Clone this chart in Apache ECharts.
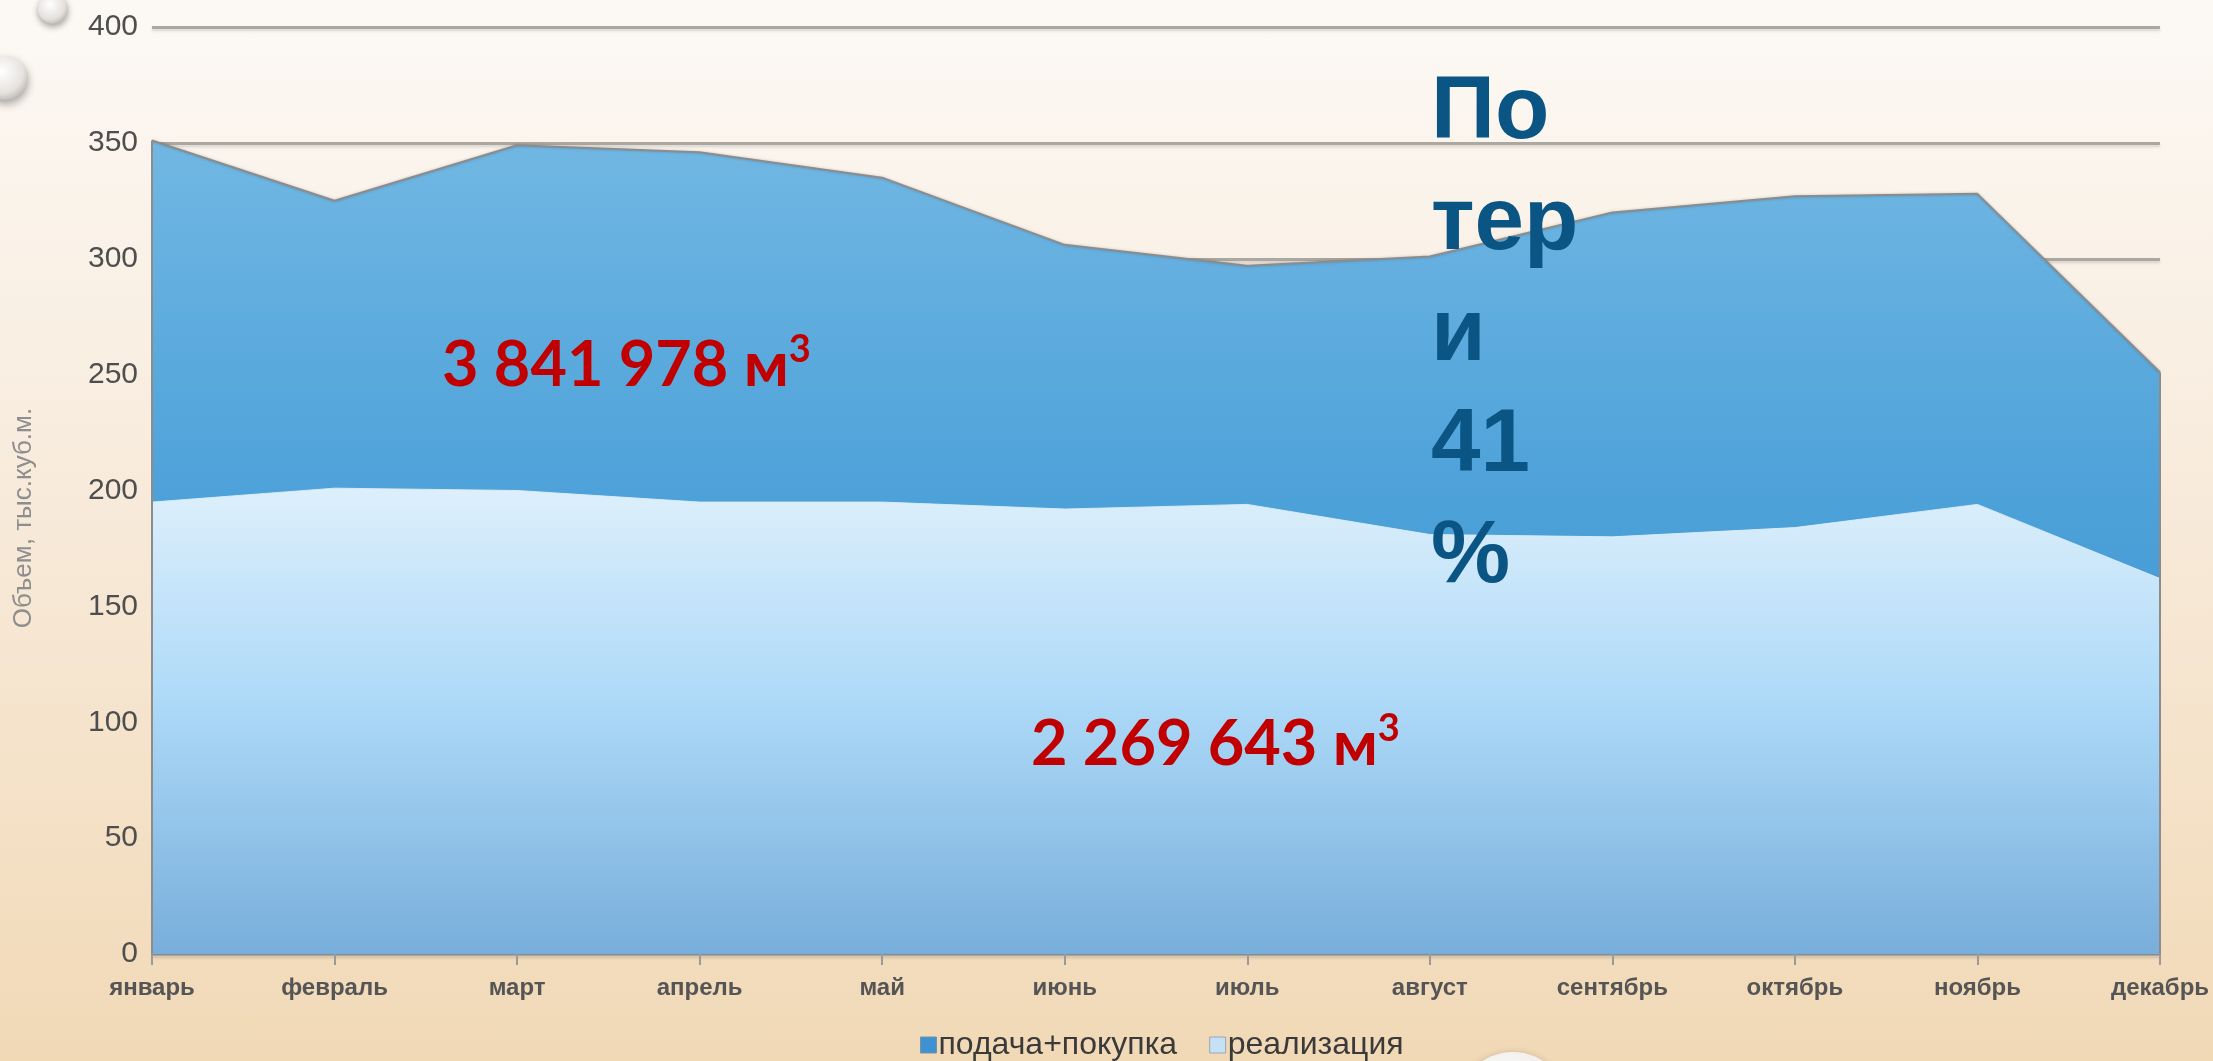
<!DOCTYPE html>
<html>
<head>
<meta charset="utf-8">
<script src="https://cdn.jsdelivr.net/npm/echarts@6/dist/echarts.min.js"></script>
<style>
html,body{margin:0;padding:0;}
#c{width:2213px;height:1061px;background:linear-gradient(180deg,#FCF9F5 0%,#F8EBDC 45%,#F1D9B6 100%);}
</style>
</head>
<body>
<div id="c"></div>
<script>
var months = ['январь','февраль','март','апрель','май','июнь','июль','август','сентябрь','октябрь','ноябрь','декабрь'];
var supply = [351, 325, 349, 346, 335, 306, 297, 301, 320, 327, 328, 251];
var sales = [195, 201, 200, 195, 195, 192, 194, 181, 180, 184, 194, 162];
var seriesNames = ['подача+покупка', 'реализация'];
var yAxisTitle = 'Объем, тыс.куб.м.';
var noteSupply = '3 841 978 м';
var noteSales = '2 269 643 м';
var noteLoss = 'По\nтер\nи\n41\n%';

var chart = echarts.init(document.getElementById('c'), null, {renderer: 'canvas'});
var last = months.length - 1;
var edgeStyle = {color: '#8C8C8C', width: 2, type: 'solid'};
var redRich = {
  a: {fontFamily: 'Lato', fontWeight: 'bold', fontSize: 63, lineHeight: 70, fill: '#C00000', color: '#C00000'},
  s: {fontFamily: 'Lato', fontWeight: 'bold', fontSize: 38, lineHeight: 40, verticalAlign: 'top', fill: '#C00000', color: '#C00000'}
};

chart.setOption({
  backgroundColor: 'transparent',
  animation: false,
  grid: {left: 152, right: 53, top: 27, bottom: 107},
  legend: {
    data: [
      {name: seriesNames[0], itemStyle: {color: '#3F92D2', borderColor: '#7A8FA0', borderWidth: 1}},
      {name: seriesNames[1], itemStyle: {color: '#C6E1F6', borderColor: '#9AA6B0', borderWidth: 1}}
    ],
    top: 1024,
    left: 915,
    itemWidth: 16,
    itemHeight: 16,
    itemGap: 32,
    icon: 'rect',
    textStyle: {fontFamily: 'Liberation Sans, Arial', fontSize: 32, color: '#3a3a3a', padding: [0, 0, 0, -3]}
  },
  xAxis: {
    type: 'category',
    data: months,
    boundaryGap: false,
    axisLine: {lineStyle: {color: '#8A8A8A', width: 2}},
    axisTick: {show: true, length: 11, lineStyle: {color: '#9A9A9A', width: 2}},
    axisLabel: {fontFamily: 'Liberation Sans, Arial', fontWeight: 'bold', fontSize: 24, color: '#555', margin: 22}
  },
  yAxis: {
    type: 'value',
    min: 0, max: 400, interval: 50,
    axisLine: {show: false},
    axisTick: {show: false},
    axisLabel: {fontFamily: 'Liberation Sans, Arial', fontSize: 30, color: '#4E4E4E', margin: 14},
    splitLine: {lineStyle: {color: '#ABA7A1', width: 3, shadowColor: 'rgba(0,0,0,0.15)', shadowBlur: 3, shadowOffsetY: 2}}
  },
  series: [
    {
      name: seriesNames[0],
      type: 'line',
      data: supply,
      symbol: 'none',
      smooth: false,
      z: 2,
      itemStyle: {color: '#3F92D2'},
      lineStyle: {color: '#8C8C8C', width: 2, shadowColor: 'rgba(0,0,0,0.2)', shadowBlur: 3},
      areaStyle: {
        opacity: 1,
        color: new echarts.graphic.LinearGradient(0, 0, 0, 1, [
          {offset: 0, color: '#71B7E3'},
          {offset: 0.45, color: '#4CA1D9'},
          {offset: 1, color: '#3A8ECB'}
        ])
      },
      markLine: {
        silent: true,
        symbol: 'none',
        label: {show: false},
        lineStyle: edgeStyle,
        data: [
          [{coord: [months[0], 0]}, {coord: [months[0], supply[0]]}],
          [{coord: [months[last], 0]}, {coord: [months[last], supply[last]]}]
        ]
      }
    },
    {
      name: seriesNames[1],
      type: 'line',
      data: sales,
      symbol: 'none',
      smooth: false,
      z: 3,
      itemStyle: {color: '#C6E1F6'},
      lineStyle: {color: 'rgba(220,238,250,0.9)', width: 1},
      areaStyle: {
        opacity: 1,
        color: new echarts.graphic.LinearGradient(0, 0, 0, 1, [
          {offset: 0, color: '#DDEFFB'},
          {offset: 0.45, color: '#AEDAF8'},
          {offset: 1, color: '#78AEDB'}
        ])
      }
    }
  ],
  graphic: [
    {type: 'text', x: 24, y: 518, rotation: Math.PI / 2, z: 5,
     style: {text: yAxisTitle, fontFamily: 'Liberation Sans, Arial', fontSize: 26, fill: '#8E8E8E', align: 'center', verticalAlign: 'middle'}},
    {type: 'circle', shape: {cx: 53, cy: 9, r: 15}, z: 10,
     style: {fill: new echarts.graphic.RadialGradient(0.4, 0.35, 0.7, [{offset: 0, color: '#FFFFFF'}, {offset: 0.7, color: '#E4E0DC'}, {offset: 1, color: '#B8B4B0'}]),
             shadowColor: 'rgba(0,0,0,0.35)', shadowBlur: 6, shadowOffsetY: 3}},
    {type: 'circle', shape: {cx: 6, cy: 78, r: 22}, z: 10,
     style: {fill: new echarts.graphic.RadialGradient(0.4, 0.35, 0.7, [{offset: 0, color: '#FFFFFF'}, {offset: 0.7, color: '#E6E2DE'}, {offset: 1, color: '#BAB6B2'}]),
             shadowColor: 'rgba(0,0,0,0.35)', shadowBlur: 8, shadowOffsetY: 4}},
    {type: 'circle', shape: {cx: 1513, cy: 1108, r: 56}, z: 10,
     style: {fill: new echarts.graphic.RadialGradient(0.4, 0.35, 0.7, [{offset: 0, color: '#FFFFFF'}, {offset: 0.8, color: '#EEEAE6'}, {offset: 1, color: '#D6D2CE'}]),
             shadowColor: 'rgba(0,0,0,0.15)', shadowBlur: 6}},
    {type: 'text', left: 442, top: 331, z: 20,
     style: {text: '{a|' + noteSupply + '}{s|3}', rich: redRich, fill: '#C00000'}},
    {type: 'text', left: 1031, top: 710, z: 20,
     style: {text: '{a|' + noteSales + '}{s|3}', rich: redRich, fill: '#C00000'}},
    {type: 'text', left: 1431, top: 58, z: 20,
     style: {text: noteLoss, fontFamily: 'Liberation Sans, Arial', fontWeight: 'bold', fontSize: 89, lineHeight: 111, fill: '#0B5584'}}
  ]
});
</script>
</body>
</html>
